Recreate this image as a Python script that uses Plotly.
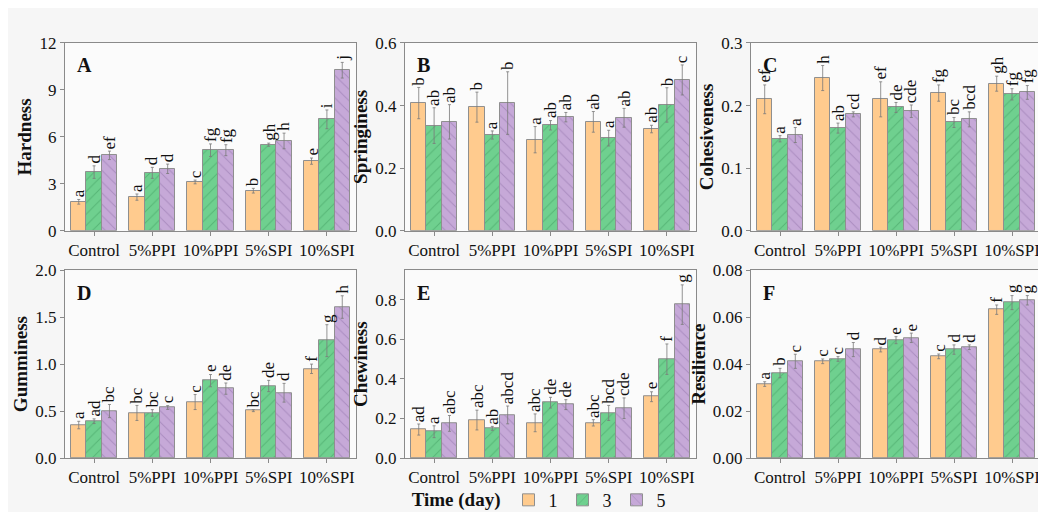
import plotly.graph_objects as go

categories = ["Control", "5%PPI", "10%PPI", "5%SPI", "10%SPI"]
days = ["1", "3", "5"]

hardness = [[1.85, 2.15, 3.12, 2.56, 4.45],
            [3.75, 3.70, 5.15, 5.50, 7.12],
            [4.82, 3.96, 5.15, 5.74, 10.26]]
hardness_err = [[0.15, 0.20, 0.12, 0.15, 0.20],
                [0.40, 0.35, 0.40, 0.10, 0.60],
                [0.27, 0.30, 0.35, 0.50, 0.50]]
hardness_sig = [["a", "a", "c", "b", "e"],
                ["d", "d", "fg", "gh", "i"],
                ["ef", "d", "fg", "h", "j"]]

springiness = [[0.408, 0.395, 0.291, 0.348, 0.325],
               [0.336, 0.306, 0.337, 0.296, 0.402],
               [0.348, 0.408, 0.363, 0.361, 0.482]]
springiness_err = [[0.050, 0.048, 0.042, 0.033, 0.012],
                   [0.057, 0.013, 0.015, 0.025, 0.055],
                   [0.055, 0.100, 0.015, 0.030, 0.048]]
springiness_sig = [["b", "b", "a", "ab", "ab"],
                   ["ab", "a", "ab", "a", "b"],
                   ["ab", "b", "ab", "ab", "c"]]

cohesiveness = [[0.210, 0.244, 0.210, 0.220, 0.235],
                [0.147, 0.164, 0.197, 0.173, 0.218],
                [0.153, 0.186, 0.191, 0.178, 0.221]]
cohesiveness_err = [[0.023, 0.020, 0.028, 0.013, 0.012],
                    [0.005, 0.008, 0.008, 0.008, 0.009],
                    [0.012, 0.004, 0.010, 0.012, 0.011]]
cohesiveness_sig = [["ef", "h", "ef", "fg", "gh"],
                    ["a", "ab", "de", "bc", "fg"],
                    ["a", "cd", "cde", "bcd", "fg"]]

gumminess = [[0.351, 0.480, 0.596, 0.504, 0.950],
             [0.392, 0.480, 0.824, 0.767, 1.250],
             [0.500, 0.538, 0.739, 0.695, 1.608]]
gumminess_err = [[0.040, 0.080, 0.080, 0.010, 0.050],
                 [0.025, 0.035, 0.065, 0.060, 0.170],
                 [0.070, 0.020, 0.060, 0.100, 0.120]]
gumminess_sig = [["a", "bc", "c", "bc", "f"],
                 ["ad", "bc", "e", "de", "g"],
                 ["bc", "c", "de", "d", "h"]]

chewiness = [[0.144, 0.192, 0.178, 0.178, 0.310],
             [0.133, 0.150, 0.280, 0.228, 0.500],
             [0.175, 0.218, 0.270, 0.252, 0.776]]
chewiness_err = [[0.028, 0.050, 0.045, 0.016, 0.025],
                 [0.030, 0.010, 0.027, 0.038, 0.077],
                 [0.040, 0.045, 0.025, 0.052, 0.100]]
chewiness_sig = [["ad", "abc", "abc", "abc", "e"],
                 ["a", "ab", "de", "bcd", "f"],
                 ["abc", "abcd", "de", "cde", "g"]]

resilience = [[0.0315, 0.0412, 0.0462, 0.0433, 0.0632],
              [0.0362, 0.0422, 0.0502, 0.0462, 0.0662],
              [0.0412, 0.0462, 0.0512, 0.0472, 0.0672]]
resilience_err = [[0.0010, 0.0010, 0.0010, 0.0010, 0.0020],
                  [0.0020, 0.0010, 0.0015, 0.0020, 0.0030],
                  [0.0030, 0.0030, 0.0020, 0.0010, 0.0020]]
resilience_sig = [["a", "c", "d", "c", "f"],
                  ["b", "c", "e", "d", "g"],
                  ["c", "d", "e", "d", "g"]]

panels = [
    ("A", "Hardness", hardness, hardness_err, hardness_sig, [0, 12], 3, ".0f"),
    ("B", "Springiness", springiness, springiness_err, springiness_sig, [0, 0.6], 0.2, ".1f"),
    ("C", "Cohesiveness", cohesiveness, cohesiveness_err, cohesiveness_sig, [0, 0.3], 0.1, ".1f"),
    ("D", "Gumminess", gumminess, gumminess_err, gumminess_sig, [0, 2.0], 0.5, ".1f"),
    ("E", "Chewiness", chewiness, chewiness_err, chewiness_sig, [0, 0.95], 0.2, ".1f"),
    ("F", "Resilience", resilience, resilience_err, resilience_sig, [0, 0.08], 0.02, ".2f"),
]

W, H = 1046, 512
x_px = [(57, 348), (397, 688), (743, 1033)]
y_px = [(27, 222), (263, 458)]

colors = ["#FFCB8E", "#6FD08F", "#C6A9D8"]
pat_shapes = ["", "/", "\\"]
pat_fg = ["#FFCB8E", "#3E9A5E", "#8E6FA6"]
FONT = "Liberation Serif, Times New Roman, serif"
bw = 0.264

fig = go.Figure()
annotations = []
for p, (letter, title, vals, errs, sigs, yr, dt, fmt) in enumerate(panels):
    r, c = divmod(p, 3)
    n = p + 1
    xa = "x" if n == 1 else f"x{n}"
    ya = "y" if n == 1 else f"y{n}"
    for k in range(3):
        xs = [i + (k - 1) * bw for i in range(len(categories))]
        fig.add_trace(go.Bar(
            x=xs, y=vals[k], width=bw, name=days[k],
            xaxis=xa, yaxis=ya, showlegend=(p == 0),
            legendgroup=days[k],
            marker=dict(color=colors[k],
                        line=dict(color="#8f8f8f", width=1),
                        pattern=dict(shape=pat_shapes[k], fgcolor=pat_fg[k],
                                     size=8, solidity=0.12)),
            error_y=dict(type="data", array=errs[k], color="#7a7a7a",
                         thickness=0.8, width=1.5),
        ))
        for i in range(len(categories)):
            annotations.append(dict(
                x=xs[i], y=vals[k][i] + errs[k][i], xref=xa, yref=ya,
                text=sigs[k][i], textangle=-90, showarrow=False,
                xanchor="center", yanchor="bottom", yshift=0,
                font=dict(family=FONT, size=17, color="#111")))
    annotations.append(dict(
        x=0.035, y=0.95, xref=f"{xa} domain", yref=f"{ya} domain",
        text=f"<b>{letter}</b>", showarrow=False, xanchor="left", yanchor="top",
        font=dict(family=FONT, size=20, color="#111")))
    x0, x1 = x_px[c]
    y0, y1 = y_px[r]
    axis_common = dict(showline=True, mirror=True, linecolor="#8a8a8a", linewidth=1,
                       ticks="outside", ticklen=4, tickcolor="#8a8a8a",
                       showgrid=False, zeroline=False, tickangle=0,
                       tickfont=dict(family=FONT, size=17, color="#111"))
    fig.update_layout({
        ("xaxis" if n == 1 else f"xaxis{n}"): dict(
            domain=[x0 / W, x1 / W], anchor=ya, range=[-0.5, 4.5],
            tickmode="array", tickvals=list(range(len(categories))),
            ticktext=categories, **axis_common),
        ("yaxis" if n == 1 else f"yaxis{n}"): dict(
            domain=[1 - y1 / H, 1 - y0 / H], anchor=xa, range=yr,
            dtick=dt, tick0=0, tickformat=fmt,
            title=dict(text=f"<b>{title}</b>", standoff=2,
                       font=dict(family=FONT, size=19, color="#111")),
            **axis_common),
    })

fig.update_layout(
    width=W, height=H, margin=dict(l=0, r=0, t=0, b=0),
    paper_bgcolor="#f6f6f6", plot_bgcolor="#fbfbfb",
    barmode="overlay", bargap=0,
    annotations=annotations,
    legend=dict(orientation="h", x=0.384, y=0.02, xanchor="left", yanchor="middle",
                title=dict(text="<b>Time (day)</b>", side="left",
                           font=dict(family=FONT, size=19, color="#111")),
                font=dict(family=FONT, size=18, color="#111"),
                bgcolor="rgba(0,0,0,0)", itemwidth=30, traceorder="normal"),
    showlegend=True,
)

fig.write_html("out.html")
